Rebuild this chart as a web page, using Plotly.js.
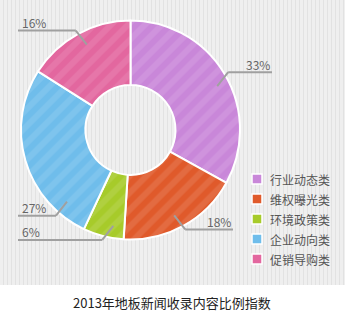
<!DOCTYPE html>
<html><head><meta charset="utf-8">
<script src="https://cdn.plot.ly/plotly-3.0.1.min.js"></script>
<style>
html,body{margin:0;padding:0;background:#fff;}
#wrap{position:relative;width:345px;height:319px;overflow:hidden;}
#panel{position:absolute;left:0;top:0;width:345px;height:285px;background:repeating-linear-gradient(90deg,#efefef 0px,#efefef 3px,#e2e2e2 3px,#e2e2e2 4px);}
#chart{position:absolute;left:0;top:0;width:345px;height:319px;}
</style></head><body>
<div id="wrap"><div id="panel"></div><div id="chart"></div></div>
<script>
const categories = ['行业动态类','维权曝光类','环境政策类','企业动向类','促销导购类'];
const shares = [33, 18, 6, 27, 16];
const sliceColors = ['#c987d9','#e05a2b','#a7cb2a','#6fbdeb','#e3679f'];
const chartTitle = '2013年地板新闻收录内容比例指数';

const W = 345, H = 319;
const CX = 130.5, CY = 130, R = 109.5, HOLE = 45 / 109.5;
const FONT = '"Noto Sans CJK SC", "Noto Sans", sans-serif';
const px = x => x / W;
const py = y => 1 - y / H;

const LEG_X = 252, LEG_Y0 = 179, LEG_STEP = 20;
const LEFT_END = 18, RIGHT_END = 272, ROOM = 38;

const shapes = [], annotations = [];
const total = shares.reduce((a, b) => a + b, 0);
let cum = 0;
const Rl = R + 4;
shares.forEach((v, i) => {
  const mid = (cum + v / 2) / total * 2 * Math.PI;
  cum += v;
  const sx = Math.sin(mid) >= 0 ? 1 : -1;
  let Ly = CY - Rl * Math.cos(mid);
  let dy = Ly - CY;
  const sgn = dy >= 0 ? 1 : -1;
  const endX = sx > 0 ? (Ly > LEG_Y0 - 20 ? LEG_X - 19 : RIGHT_END) : LEFT_END;
  let half = Math.sqrt(Math.max(Rl * Rl - dy * dy, 0));
  let ex = CX + sx * half;
  const limit = sx > 0 ? endX - ROOM : endX + ROOM;
  if ((sx > 0 && ex > limit) || (sx < 0 && ex < limit)) {
    const need = Math.abs(limit - CX);
    dy = sgn * Math.sqrt(Math.max(Rl * Rl - need * need, 0));
    Ly = CY + dy;
    ex = limit;
  }
  const sy = dy >= 0 ? 1 : -1;
  const ax = ex - sx * 11, ay = Ly - sy * 14;
  const lineStyle = {color: '#a0a0a0', width: 2};
  shapes.push({type: 'line', xref: 'paper', yref: 'paper', x0: px(ax), y0: py(ay), x1: px(ex), y1: py(Ly), line: lineStyle});
  shapes.push({type: 'line', xref: 'paper', yref: 'paper', x0: px(ex), y0: py(Ly), x1: px(endX), y1: py(Ly), line: lineStyle});
  annotations.push({
    xref: 'paper', yref: 'paper', x: px(sx > 0 ? endX : endX + 2), y: py(Ly - 8),
    xanchor: sx > 0 ? 'right' : 'left', yanchor: 'middle', showarrow: false,
    text: v + '%', font: {family: FONT, size: 12, color: '#666'}
  });
});

categories.forEach((c, i) => {
  const cy = LEG_Y0 + i * LEG_STEP;
  shapes.push({type: 'rect', xref: 'paper', yref: 'paper',
    x0: px(LEG_X), x1: px(LEG_X + 10), y0: py(cy - 5), y1: py(cy + 5),
    fillcolor: sliceColors[i], line: {color: '#ffffff', width: 1.5}});
  annotations.push({xref: 'paper', yref: 'paper', x: px(LEG_X + 16), y: py(cy),
    xanchor: 'left', yanchor: 'middle', showarrow: false, text: c,
    font: {family: FONT, size: 12, color: '#555'}});
});

annotations.push({xref: 'paper', yref: 'paper', x: px(171.5), y: py(302),
  xanchor: 'center', yanchor: 'middle', showarrow: false, text: chartTitle,
  font: {family: FONT, size: 13, color: '#222'}});

const trace = {
  type: 'pie', values: shares, labels: categories, sort: false,
  direction: 'clockwise', rotation: 0, hole: HOLE,
  textinfo: 'none', hoverinfo: 'none', showlegend: false,
  domain: {x: [px(CX - R), px(CX + R)], y: [py(CY + R), py(CY - R)]},
  marker: {colors: sliceColors, line: {color: '#ffffff', width: 2},
    pattern: {shape: '/', fillmode: 'overlay', fgcolor: '#ffffff', fgopacity: 0.1, size: 12, solidity: 0.5}}
};

Plotly.newPlot('chart', [trace], {
  width: W, height: H, margin: {l: 0, r: 0, t: 0, b: 0},
  paper_bgcolor: 'rgba(0,0,0,0)', plot_bgcolor: 'rgba(0,0,0,0)',
  showlegend: false, shapes: shapes, annotations: annotations,
  font: {family: FONT}
}, {staticPlot: true, displayModeBar: false});
</script>
</body></html>
